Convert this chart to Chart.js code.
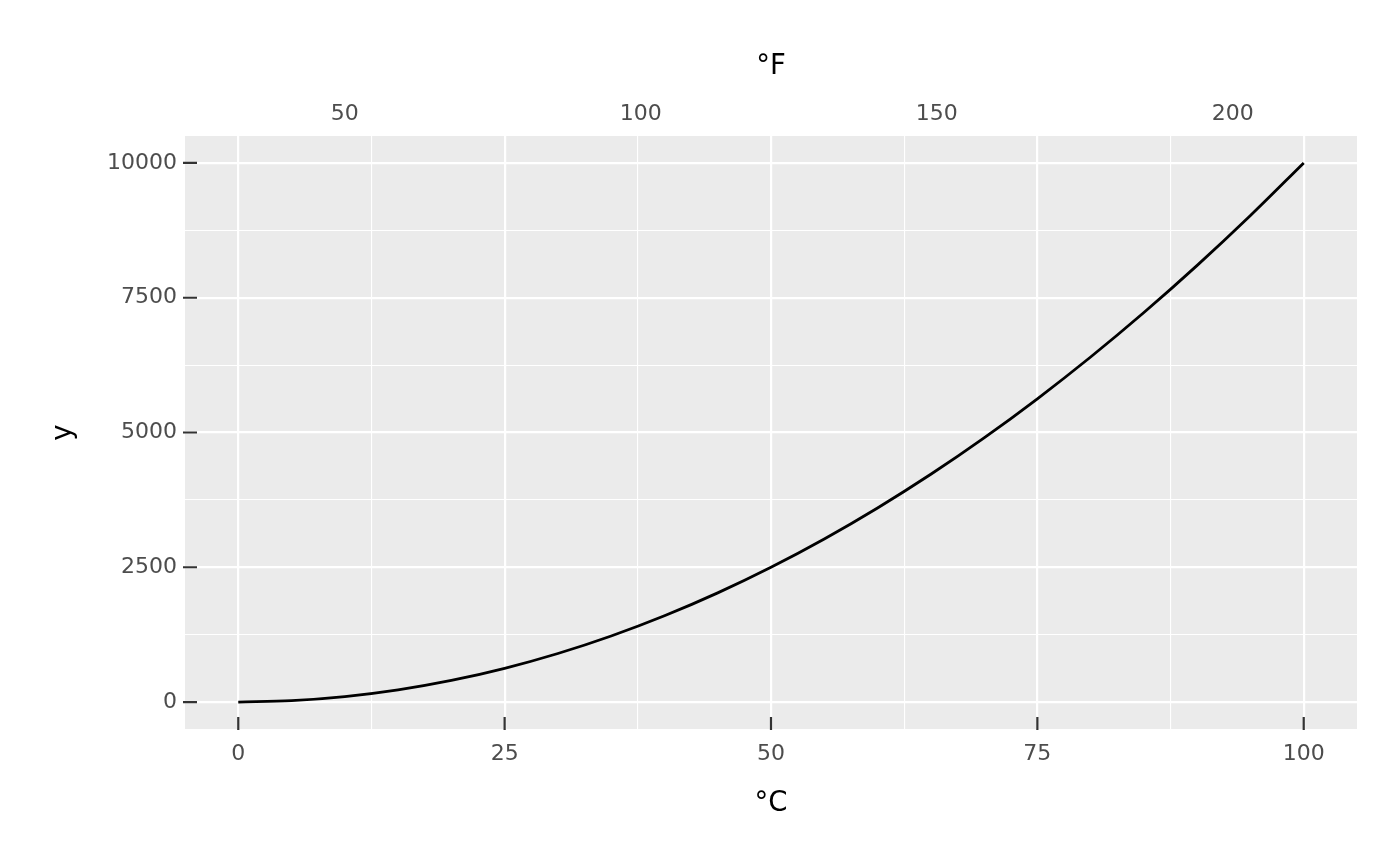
<!DOCTYPE html>
<html>
<head>
<meta charset="utf-8">
<script src="https://cdn.jsdelivr.net/npm/chart.js@4"></script>
<style>
  html, body { margin: 0; padding: 0; background: #ffffff; }
  #wrap { width: 1400px; height: 866px; }
</style>
</head>
<body>
<div id="wrap"><canvas id="c" width="1400" height="866"></canvas></div>
<script>
// Data (°C on x, y value)
const celsius = [0, 5, 10, 15, 20, 25, 30, 35, 40, 45, 50, 55, 60, 65, 70, 75, 80, 85, 90, 95, 100];
const yValues = [0, 25, 100, 225, 400, 625, 900, 1225, 1600, 2025, 2500, 3025, 3600, 4225, 4900, 5625, 6400, 7225, 8100, 9025, 10000];

// Tick labels
const xMajorTicks = [0, 25, 50, 75, 100];
const xMinorTicks = [12.5, 37.5, 62.5, 87.5];
const yMajorTicks = [0, 2500, 5000, 7500, 10000];
const yMinorTicks = [1250, 3750, 6250, 8750];
const fahrenheitTicks = [50, 100, 150, 200];

const xRange = [-5, 105];
const yRange = [-500, 10500];
const fRange = [xRange[0] * 9 / 5 + 32, xRange[1] * 9 / 5 + 32];

const points = celsius.map((c, i) => ({ x: c, y: yValues[i] }));

const TICK_FONT = { family: 'DejaVu Sans', size: 22 };
const TITLE_FONT = { family: 'DejaVu Sans', size: 27.5 };
const TICK_COLOR = '#4D4D4D';

function buildTicks(major, minor) {
  return function (scale) {
    const all = major.concat(minor).sort((a, b) => a - b);
    scale.ticks = all.map(v => ({ value: v, major: major.includes(v) }));
  };
}
function majorLabel(major) {
  return function (value) { return major.includes(value) ? String(value) : ''; };
}
function gridWidth(major) {
  return function (ctx) { return (ctx.tick && major.includes(ctx.tick.value)) ? 2.2 : 1.1; };
}

const panelPlugin = {
  id: 'panel',
  beforeDraw(chart) {
    const a = chart.chartArea, ctx = chart.ctx;
    ctx.save();
    ctx.fillStyle = '#EBEBEB';
    ctx.fillRect(a.left, a.top, a.right - a.left, a.bottom - a.top);
    ctx.restore();
  },
  afterDatasetsDraw(chart) {
    const a = chart.chartArea, ctx = chart.ctx;
    const xs = chart.scales.x, ys = chart.scales.y;
    ctx.save();
    ctx.strokeStyle = '#333333';
    ctx.lineWidth = 2.2;
    ctx.beginPath();
    xMajorTicks.forEach(v => {
      const px = xs.getPixelForValue(v);
      ctx.moveTo(px, a.bottom - 12);
      ctx.lineTo(px, a.bottom + 1);
    });
    yMajorTicks.forEach(v => {
      const py = ys.getPixelForValue(v);
      ctx.moveTo(a.left - 2, py);
      ctx.lineTo(a.left + 12, py);
    });
    ctx.stroke();
    ctx.restore();
  }
};

new Chart(document.getElementById('c'), {
  type: 'line',
  data: {
    datasets: [{
      data: points,
      borderColor: '#000000',
      borderWidth: 2.8,
      pointRadius: 0,
      cubicInterpolationMode: 'monotone',
      fill: false
    }]
  },
  options: {
    responsive: false,
    animation: false,
    events: [],
    layout: { padding: { left: 0, right: 43, top: 0, bottom: 0 } },
    plugins: { legend: { display: false }, tooltip: { enabled: false } },
    scales: {
      x: {
        type: 'linear',
        position: 'bottom',
        min: xRange[0],
        max: xRange[1],
        afterBuildTicks: buildTicks(xMajorTicks, xMinorTicks),
        afterFit(scale) { scale.height = 137; },
        ticks: { font: TICK_FONT, color: TICK_COLOR, padding: 12, maxRotation: 0, autoSkip: false, callback: majorLabel(xMajorTicks) },
        grid: { color: '#FFFFFF', lineWidth: gridWidth(xMajorTicks), drawTicks: false },
        border: { display: false },
        title: { display: true, text: '°C', font: TITLE_FONT, color: '#000000', padding: { top: 0, bottom: 46 } }
      },
      x2: {
        type: 'linear',
        position: 'top',
        min: fRange[0],
        max: fRange[1],
        afterBuildTicks(scale) { scale.ticks = fahrenheitTicks.map(v => ({ value: v })); },
        afterFit(scale) { scale.height = 136; },
        ticks: { font: TICK_FONT, color: TICK_COLOR, padding: 9, maxRotation: 0, autoSkip: false },
        grid: { display: false, drawTicks: false },
        border: { display: false },
        title: { display: true, text: '°F', font: TITLE_FONT, color: '#000000', padding: { top: 50, bottom: 0 } }
      },
      y: {
        type: 'linear',
        position: 'left',
        min: yRange[0],
        max: yRange[1],
        afterBuildTicks: buildTicks(yMajorTicks, yMinorTicks),
        afterFit(scale) { scale.width = 185; },
        ticks: { font: TICK_FONT, color: TICK_COLOR, padding: 8, autoSkip: false, callback: majorLabel(yMajorTicks) },
        grid: { color: '#FFFFFF', lineWidth: gridWidth(yMajorTicks), drawTicks: false },
        border: { display: false },
        title: { display: true, text: 'y', font: TITLE_FONT, color: '#000000', padding: { top: 47, bottom: 0 } }
      }
    }
  },
  plugins: [panelPlugin]
});
</script>
</body>
</html>
